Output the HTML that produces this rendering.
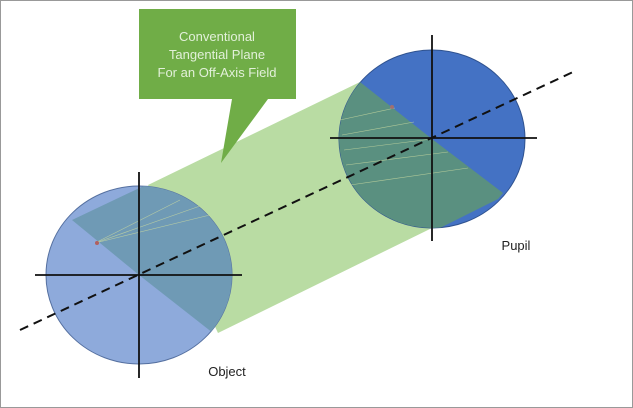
<!DOCTYPE html>
<html><head><style>html,body{margin:0;padding:0;background:#fff}svg{display:block}</style></head><body>
<svg width="633" height="408" viewBox="0 0 633 408" xmlns="http://www.w3.org/2000/svg" font-family="Liberation Sans, sans-serif">
<rect x="0.5" y="0.5" width="632" height="407" fill="#fff" stroke="#999" stroke-width="1"/>
<defs>
<clipPath id="co"><ellipse cx="139" cy="275" rx="93" ry="89"/></clipPath>
<clipPath id="cp"><ellipse cx="432" cy="139" rx="93" ry="89"/></clipPath>
</defs>
<!-- band -->
<polygon points="148,185 360,82 432,228 218,333" fill="#b9dca3"/>
<!-- object -->
<ellipse cx="139" cy="275" rx="93" ry="89" fill="#8eaadb" stroke="#5570a0" stroke-width="1"/>
<polygon clip-path="url(#co)" points="72,220 150,183 240,183 240,340 213,333 139,275" fill="#6f9ab5"/>
<!-- pupil -->
<ellipse cx="432" cy="139" rx="93" ry="89" fill="#4472c4" stroke="#2f528f" stroke-width="1"/>
<polygon clip-path="url(#cp)" points="360,82 432,139 503,193 498,199 440,228 330,232 330,82" fill="#5a9080"/>
<g stroke="#c9d9a0" stroke-width="0.6" opacity="0.8">
<line x1="340" y1="120" x2="395" y2="108"/><line x1="342" y1="135" x2="414" y2="122"/>
<line x1="344" y1="150" x2="432" y2="139"/><line x1="346" y1="165" x2="448" y2="152"/>
<line x1="350" y1="185" x2="468" y2="168"/>
<line x1="95" y1="243" x2="180" y2="200"/><line x1="95" y1="243" x2="200" y2="206"/><line x1="95" y1="243" x2="210" y2="215"/>
</g>
<circle cx="97" cy="243" r="2" fill="#b06060"/>
<circle cx="392" cy="107" r="2" fill="#a07070"/>
<!-- axes -->
<g stroke="#111" stroke-width="1.8">
<line x1="139" y1="172" x2="139" y2="378"/><line x1="35" y1="275" x2="242" y2="275"/>
<line x1="432" y1="35" x2="432" y2="241"/><line x1="330" y1="138" x2="537" y2="138"/>
</g>
<line x1="20" y1="330" x2="573" y2="72" stroke="#111" stroke-width="2" stroke-dasharray="9,6"/>
<!-- callout -->
<polygon points="139,9 296,9 296,99 268,99 221,163 232,99 139,99" fill="#70ad47"/>
<g fill="#e2f0d9" font-size="13" text-anchor="middle">
<text x="217" y="41">Conventional</text>
<text x="217" y="59">Tangential Plane</text>
<text x="217" y="77">For an Off-Axis Field</text>
</g>
<text x="227" y="376" font-size="13" text-anchor="middle" fill="#222">Object</text>
<text x="516" y="250" font-size="13" text-anchor="middle" fill="#222">Pupil</text>
</svg>
</body></html>
